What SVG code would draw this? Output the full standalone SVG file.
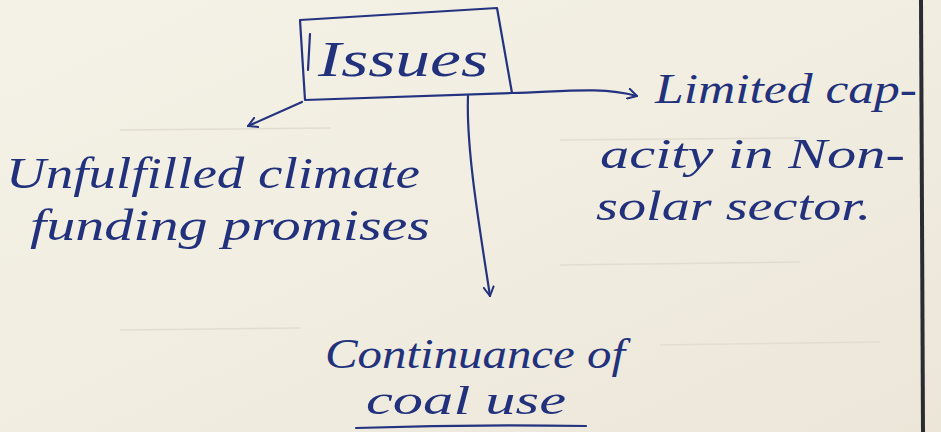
<svg xmlns="http://www.w3.org/2000/svg" width="941" height="432" viewBox="0 0 941 432">
  <defs>
    <linearGradient id="paper" x1="0" y1="0" x2="1" y2="1">
      <stop offset="0" stop-color="#f4f1e6"/>
      <stop offset="0.5" stop-color="#f1ede1"/>
      <stop offset="1" stop-color="#ebe6d8"/>
    </linearGradient>
    <marker id="head" viewBox="0 0 12 12" refX="10" refY="6" markerWidth="12" markerHeight="12" markerUnits="userSpaceOnUse" orient="auto">
      <path d="M1,1 L10,6 L1,11" fill="none" stroke="#24337f" stroke-width="2" stroke-linecap="round" stroke-linejoin="round"/>
    </marker>
    <style>
      .ink { fill: #22317c; font-family: "Liberation Serif", "DejaVu Serif", serif; font-style: italic; }
      .pen { fill: none; stroke: #24337f; stroke-width: 2.2; stroke-linecap: round; stroke-linejoin: round; }
      .faint { stroke: #e2ddd0; stroke-width: 1.5; fill: none; }
    </style>
  </defs>

  <!-- paper -->
  <rect width="941" height="432" fill="url(#paper)"/>
  <path class="faint" d="M120,130 L330,128 M560,140 L800,138 M560,265 L800,262 M120,330 L300,328 M660,345 L880,342"/>
  <!-- page edge on the right -->
  <path d="M921,0 L923,432" stroke="#2b2b33" stroke-width="4" fill="none"/>

  <!-- central node -->
  <g id="issues">
    <path class="pen" d="M300,20 L497,8 L512,93 L305,100 Z"/>
    <path class="pen" d="M310,34 L308,70"/>
    <text class="ink" x="318" y="76" font-size="50" textLength="170" lengthAdjust="spacingAndGlyphs">Issues</text>
  </g>

  <!-- branches -->
  <g id="unfulfilled">
    <text class="ink" x="6" y="188" font-size="44" textLength="414" lengthAdjust="spacingAndGlyphs">Unfulfilled climate</text>
    <text class="ink" x="30" y="240" font-size="44" textLength="400" lengthAdjust="spacingAndGlyphs">funding promises</text>
  </g>

  <g id="limited">
    <text class="ink" x="655" y="103" font-size="42" textLength="262" lengthAdjust="spacingAndGlyphs">Limited cap-</text>
    <text class="ink" x="600" y="168" font-size="42" textLength="305" lengthAdjust="spacingAndGlyphs">acity in Non-</text>
    <text class="ink" x="596" y="220" font-size="42" textLength="275" lengthAdjust="spacingAndGlyphs">solar sector.</text>
  </g>

  <g id="coal">
    <text class="ink" x="325" y="368" font-size="42" textLength="300" lengthAdjust="spacingAndGlyphs">Continuance of</text>
    <text class="ink" x="366" y="414" font-size="40" textLength="200" lengthAdjust="spacingAndGlyphs">coal use</text>
    <path class="pen" d="M356,428 Q470,424 586,426"/>
  </g>

  <!-- connectors -->
  <g id="connectors">
    <path class="pen" d="M302,102 L248,126" marker-end="url(#head)"/>
    <path class="pen" d="M512,93 C560,92 600,86 637,96" marker-end="url(#head)"/>
    <path class="pen" d="M468,96 C466,150 480,230 490,296" marker-end="url(#head)"/>
  </g>
</svg>
